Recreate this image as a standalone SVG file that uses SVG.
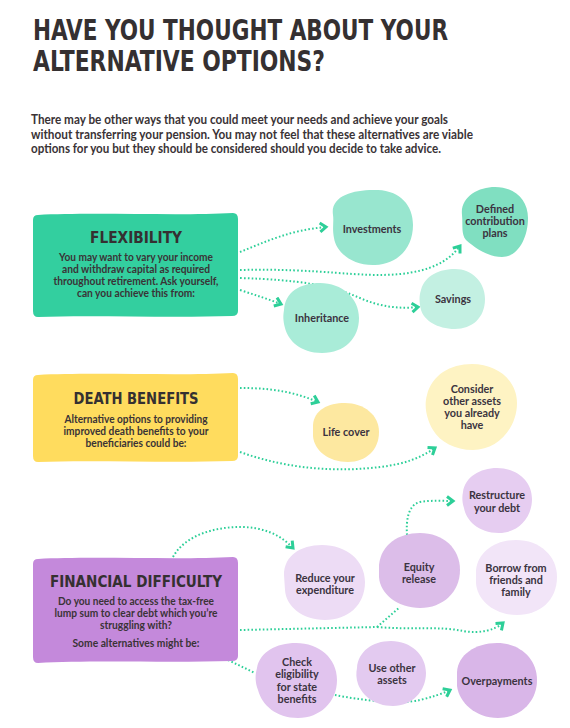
<svg xmlns="http://www.w3.org/2000/svg" width="570" height="728" viewBox="0 0 570 728">
<style>
.title{font-family:"DejaVu Sans Condensed","DejaVu Sans",sans-serif;font-weight:bold;font-size:28px;fill:#353031}
.intro{font-family:Lato,"Liberation Sans",sans-serif;font-weight:bold;font-size:12.5px;fill:#3a3336}
.bt{font-family:"DejaVu Sans Condensed","DejaVu Sans",sans-serif;font-weight:bold;font-size:15px;fill:#353031;text-anchor:middle}
.bb{font-family:Lato,"Liberation Sans",sans-serif;font-weight:bold;font-size:10.5px;fill:#3a3336;text-anchor:middle}
.nt{font-family:Lato,"Liberation Sans",sans-serif;font-weight:bold;font-size:10.8px;fill:#3b3340;text-anchor:middle}
.con{fill:none;stroke:#2dcf98;stroke-width:2;stroke-dasharray:1.6 2.2}
</style>
<defs>
<marker id="chev" viewBox="0 0 12 12" refX="9" refY="6" markerWidth="12" markerHeight="12" markerUnits="userSpaceOnUse" orient="auto">
<path d="M3,1.5 L9,6 L3,10.5" fill="none" stroke="#2dcf98" stroke-width="3" stroke-linejoin="miter"/>
</marker>
</defs>
<rect width="570" height="728" fill="#ffffff"/>

<g id="heading">
<text class="title" x="33" y="40" textLength="415" lengthAdjust="spacingAndGlyphs">HAVE YOU THOUGHT ABOUT YOUR</text>
<text class="title" x="33" y="71" textLength="292" lengthAdjust="spacingAndGlyphs">ALTERNATIVE OPTIONS?</text>
</g>
<g id="intro">
<text class="intro" x="31" y="124" textLength="417" lengthAdjust="spacingAndGlyphs">There may be other ways that you could meet your needs and achieve your goals</text>
<text class="intro" x="31" y="139" textLength="442" lengthAdjust="spacingAndGlyphs">without transferring your pension. You may not feel that these alternatives are viable</text>
<text class="intro" x="31" y="153" textLength="410" lengthAdjust="spacingAndGlyphs">options for you but they should be considered should you decide to take advice.</text>
</g>

<g id="connectors">
<path class="con" d="M240,252 C265,242 290,230 326,227" marker-end="url(#chev)"/>
<path class="con" d="M240,270 C320,268 360,278 400,274 C430,271 448,262 460,246" marker-end="url(#chev)"/>
<path class="con" d="M240,278 C300,280 330,285 360,298 C380,307 400,309 418,307" marker-end="url(#chev)"/>
<path class="con" d="M240,290 C255,295 268,299 281,304" marker-end="url(#chev)"/>
<path class="con" d="M240,388 C265,388 290,390 318,402" marker-end="url(#chev)"/>
<path class="con" d="M240,452 C290,470 340,472 380,467 C405,464 420,458 435,448" marker-end="url(#chev)"/>
<path class="con" d="M173,557 C185,535 215,527 240,527 C262,527 280,534 293,548" marker-end="url(#chev)"/>
<path class="con" d="M240,630 L378,627"/>
<path class="con" d="M377,627 L400,607"/>
<path class="con" d="M377,627 C410,630 440,626 463,631 C480,634 495,630 503,623" marker-end="url(#chev)"/>
<path class="con" d="M407,535 C406,520 408,505 420,502 C432,500 443,501 453,501" marker-end="url(#chev)"/>
<path class="con" d="M228,660 L255,673"/>
<path class="con" d="M335,695 C360,700 400,705 420,700 C432,697 442,694 450,690" marker-end="url(#chev)"/>
</g>

<g id="flexibility">
<path d="M38,215 C90,212 180,216 233,213 Q238,213 238,219 L238,311 Q238,316 232,316 C170,318 90,315 38,317 Q33,317 33,311 L33,220 Q33,215 38,215 Z" fill="#33cf9f"/>
<text class="bt" x="136" y="243" textLength="92" lengthAdjust="spacingAndGlyphs">FLEXIBILITY</text>
<text class="bb" x="136" y="261" textLength="154" lengthAdjust="spacingAndGlyphs">You may want to vary your income</text>
<text class="bb" x="136" y="273" textLength="148" lengthAdjust="spacingAndGlyphs">and withdraw capital as required</text>
<text class="bb" x="136" y="285" textLength="165" lengthAdjust="spacingAndGlyphs">throughout retirement. Ask yourself,</text>
<text class="bb" x="136" y="297" textLength="118" lengthAdjust="spacingAndGlyphs">can you achieve this from:</text>
</g>
<g id="investments">
<path d="M333,215 C330,195 355,189 378,190 C400,191 413,205 413,225 C413,248 398,264 375,265 C352,266 336,252 334,238 C332,228 334,222 333,215 Z" fill="#98e6cf"/>
<text class="nt" x="372" y="233">Investments</text>
</g>
<g id="defined-contribution">
<path d="M462,215 C460,197 478,187 495,187 C515,187 528,200 528,218 C528,238 518,257 502,257 C488,257 475,248 466,240 C461,234 463,226 462,215 Z" fill="#80dfc1"/>
<text class="nt" x="495" y="213">Defined</text>
<text class="nt" x="495" y="225">contribution</text>
<text class="nt" x="495" y="237">plans</text>
</g>
<g id="savings">
<path d="M421,290 C425,275 440,269 455,269 C472,269 485,282 485,299 C485,318 472,329 455,329 C437,329 424,320 421,310 C419,302 419,296 421,290 Z" fill="#c3f0e2"/>
<text class="nt" x="453" y="303">Savings</text>
</g>
<g id="inheritance">
<path d="M284,310 C285,292 300,283 320,283 C342,283 359,298 359,318 C359,338 345,353 322,353 C300,353 288,340 285,328 C283,320 283,316 284,310 Z" fill="#a9ecd8"/>
<text class="nt" x="322" y="322">Inheritance</text>
</g>

<g id="death-benefits">
<path d="M38,375 C90,372 180,376 233,373 Q238,373 238,379 L238,456 Q238,461 232,461 C170,463 90,460 38,462 Q33,462 33,456 L33,380 Q33,375 38,375 Z" fill="#ffdc5e"/>
<text class="bt" x="136" y="404" textLength="125" lengthAdjust="spacingAndGlyphs">DEATH BENEFITS</text>
<text class="bb" x="136" y="423" textLength="143" lengthAdjust="spacingAndGlyphs">Alternative options to providing</text>
<text class="bb" x="136" y="435" textLength="145" lengthAdjust="spacingAndGlyphs">improved death benefits to your</text>
<text class="bb" x="136" y="447" textLength="101" lengthAdjust="spacingAndGlyphs">beneficiaries could be:</text>
</g>
<g id="life-cover">
<path d="M313,425 C314,410 328,403 345,403 C364,403 379,415 379,432 C379,450 366,462 348,462 C328,462 314,450 313,436 Z" fill="#fde8a0"/>
<text class="nt" x="346" y="436">Life cover</text>
</g>
<g id="other-assets">
<path d="M427,395 C432,375 450,364 472,364 C497,364 517,380 517,403 C517,428 498,450 473,450 C455,450 440,442 433,430 C426,418 424,405 427,395 Z" fill="#fef3c3"/>
<text class="nt" x="472" y="393">Consider</text>
<text class="nt" x="472" y="405">other assets</text>
<text class="nt" x="472" y="417">you already</text>
<text class="nt" x="472" y="429">have</text>
</g>

<g id="financial-difficulty">
<path d="M38,559 C90,556 180,560 233,557 Q238,557 238,563 L238,656 Q238,661 232,661 C170,663 90,660 38,663 Q33,663 33,657 L33,564 Q33,559 38,559 Z" fill="#c489db"/>
<text class="bt" x="136" y="587" textLength="172" lengthAdjust="spacingAndGlyphs">FINANCIAL DIFFICULTY</text>
<text class="bb" x="136" y="605" textLength="156" lengthAdjust="spacingAndGlyphs">Do you need to access the tax-free</text>
<text class="bb" x="136" y="617" textLength="163" lengthAdjust="spacingAndGlyphs">lump sum to clear debt which you’re</text>
<text class="bb" x="136" y="629" textLength="72" lengthAdjust="spacingAndGlyphs">struggling with?</text>
<text class="bb" x="136" y="647" textLength="127" lengthAdjust="spacingAndGlyphs">Some alternatives might be:</text>
</g>
<g id="restructure">
<path d="M463,492 C465,477 480,468 497,468 C516,468 532,480 532,499 C532,518 518,533 499,533 C478,533 466,520 464,508 C462,502 462,497 463,492 Z" fill="#e6cdf1"/>
<text class="nt" x="497" y="499">Restructure</text>
<text class="nt" x="497" y="512">your debt</text>
</g>
<g id="reduce">
<path d="M284,575 C284,556 300,545 322,545 C346,545 365,560 365,582 C365,605 348,620 325,620 C302,620 286,606 285,590 Z" fill="#eddcf5"/>
<text class="nt" x="325" y="582">Reduce your</text>
<text class="nt" x="325" y="594">expenditure</text>
</g>
<g id="equity-release">
<path d="M379,565 C381,545 398,533 420,533 C443,533 460,548 460,570 C460,592 443,608 420,608 C398,608 380,594 379,577 Z" fill="#dcbde9"/>
<text class="nt" x="419" y="571">Equity</text>
<text class="nt" x="419" y="583">release</text>
</g>
<g id="borrow">
<path d="M476,570 C478,552 495,540 516,540 C540,540 557,556 557,577 C557,600 540,615 517,615 C494,615 477,600 476,583 Z" fill="#f2e5f8"/>
<text class="nt" x="516" y="572">Borrow from</text>
<text class="nt" x="516" y="584">friends and</text>
<text class="nt" x="516" y="596">family</text>
</g>
<g id="check-eligibility">
<path d="M257,668 C260,652 276,643 296,643 C319,643 337,658 337,680 C337,702 320,718 298,718 C276,718 262,705 258,690 C255,682 255,675 257,668 Z" fill="#e1c4ee"/>
<text class="nt" x="297" y="666">Check</text>
<text class="nt" x="297" y="678">eligibility</text>
<text class="nt" x="297" y="691">for state</text>
<text class="nt" x="297" y="703">benefits</text>
</g>
<g id="use-other-assets">
<path d="M357,668 C358,652 372,641 391,641 C411,641 426,655 426,673 C426,691 412,706 393,706 C374,706 362,695 358,684 C356,678 356,673 357,668 Z" fill="#e3caf0"/>
<text class="nt" x="392" y="672">Use other</text>
<text class="nt" x="392" y="684">assets</text>
</g>
<g id="overpayments">
<path d="M457,672 C458,655 475,643 497,643 C520,643 537,659 537,680 C537,702 520,718 498,718 C475,718 459,702 457,686 Z" fill="#d9b6e8"/>
<text class="nt" x="497" y="685">Overpayments</text>
</g>
</svg>
